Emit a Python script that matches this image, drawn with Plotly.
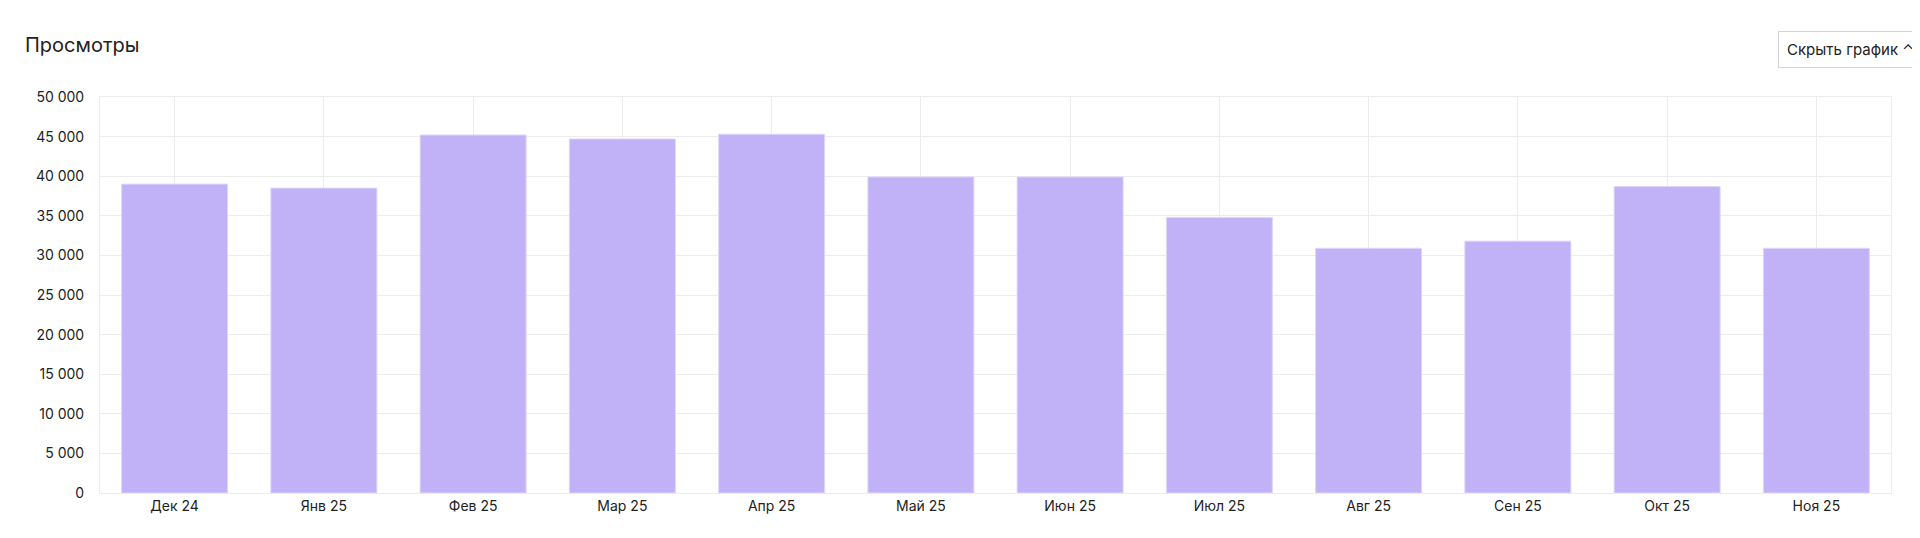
import plotly.graph_objects as go

months = ["Дек 24","Янв 25","Фев 25","Мар 25","Апр 25","Май 25","Июн 25","Июл 25","Авг 25","Сен 25","Окт 25","Ноя 25"]
views = [39000, 38500, 45200, 44700, 45300, 39900, 39900, 34800, 30900, 31800, 38700, 30900]
yticks = list(range(0, 50001, 5000))
ytext = [f"{v:,}".replace(",", " ") for v in yticks]

L, R, T, B = 92, 37, 89, 53
PW, PH = 1920 - L - R, 538 - T - B

fig = go.Figure(go.Bar(x=months, y=views, width=0.71,
                       marker=dict(color="#c1b2f7", line=dict(color="#ddd6fb", width=1))))
fig.update_layout(
    width=1920, height=538, paper_bgcolor="white", plot_bgcolor="white",
    margin=dict(l=L, r=R, t=T, b=B),
    font=dict(family="Inter, Roboto, sans-serif", size=14, color="#222"),
    showlegend=False,
    annotations=[
        dict(text="Просмотры", xref="paper", yref="paper", x=-77/PW, y=1+52/PH,
             xanchor="left", yanchor="middle", showarrow=False, font=dict(size=20, color="#222")),
        dict(text="Скрыть график ⌃", xref="paper", yref="paper", x=1+32/PW, y=1+48/PH,
             xanchor="right", yanchor="middle", showarrow=False, font=dict(size=15, color="#222"),
             bordercolor="#d5d5d5", borderwidth=1, borderpad=8, bgcolor="white"),
    ],
)
fig.update_xaxes(showgrid=True, gridcolor="#ececec", showline=True, linecolor="#ececec",
                 mirror=True, ticks="", tickfont=dict(size=14))
fig.update_yaxes(range=[0, 50000], tickvals=yticks, ticktext=ytext, showgrid=True,
                 gridcolor="#ececec", showline=True, linecolor="#ececec", mirror=True,
                 zeroline=False, ticks="", tickfont=dict(size=14), ticklabelstandoff=12)
fig.write_html("out.html")
